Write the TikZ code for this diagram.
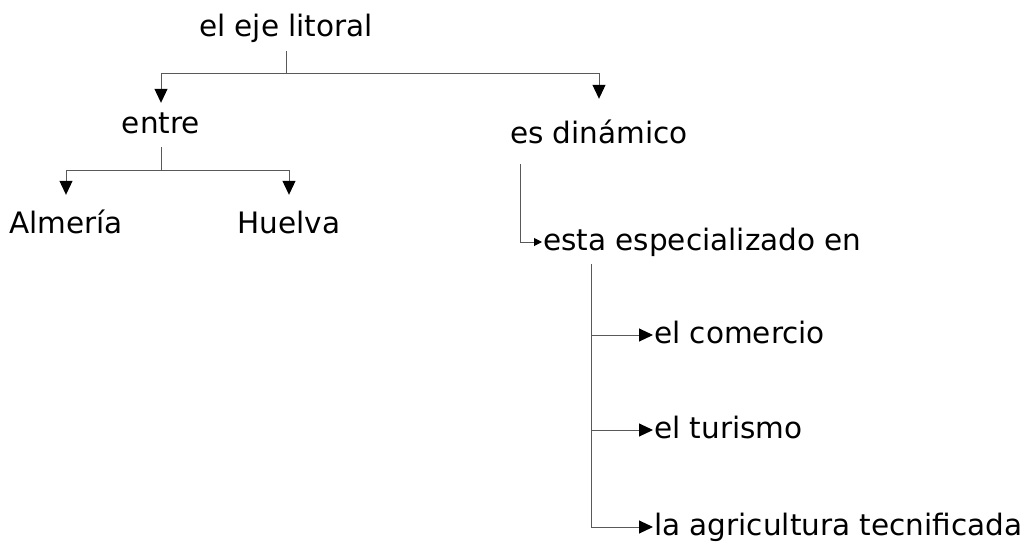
\documentclass[tikz,border=0pt]{standalone}
\usepackage{fontspec}
\setmainfont{DejaVu Sans}
\usetikzlibrary{arrows.meta}

\begin{document}
\begin{tikzpicture}[x=1pt, y=-1pt,
  word/.style={font=\fontsize{29.5}{34}\selectfont, text height=16pt, text depth=0pt, inner xsep=1pt, inner ysep=14pt},
  link/.style={draw=black!65, line width=1pt},
  arr/.style={link, -{Triangle[length=14pt, width=13pt, color=black]}},
  arrsmall/.style={link, -{Triangle[length=8pt, width=8pt, color=black]}}]

\useasboundingbox (0,0) rectangle (1035,551);

% Labels
\node[word, anchor=base] (root) at (286,37) {el eje litoral};
\node[word, anchor=base] (entre) at (161,133) {entre};
\node[word, anchor=base] (dina) at (599,143) {es dinámico};
\node[word, anchor=base] (alm) at (66,233) {Almería};
\node[word, anchor=base] (hue) at (289,233) {Huelva};
\node[word, anchor=base west] (esta) at (542,250) {esta especializado en};
\node[word, anchor=base west] (com) at (653,343) {el comercio};
\node[word, anchor=base west] (tur) at (653,438) {el turismo};
\node[word, anchor=base west] (agri) at (653,535) {la agricultura tecnificada};

% Top split
\coordinate (j1) at ([yshift=-22pt]root.south);
\draw[link] (root.south) -- (j1);
\draw[arr] (j1) -| (entre.north);
\draw[arr] (j1) -| ([yshift=14pt]dina.north);

% Left split
\coordinate (j2) at ([yshift=-23pt]entre.south);
\draw[link] (entre.south) -- (j2);
\draw[arr] (j2) -| ([yshift=8pt]alm.north);
\draw[arr] (j2) -| ([yshift=8pt]hue.north);

% Right side
\draw[arrsmall] ([xshift=12pt, yshift=-7pt]dina.south west) |- (esta.west);
\draw[arr] ([xshift=49pt]esta.south west) |- (com.west);
\draw[arr] ([xshift=49pt]esta.south west) |- (tur.west);
\draw[arr] ([xshift=49pt]esta.south west) |- (agri.west);

\end{tikzpicture}
\end{document}
